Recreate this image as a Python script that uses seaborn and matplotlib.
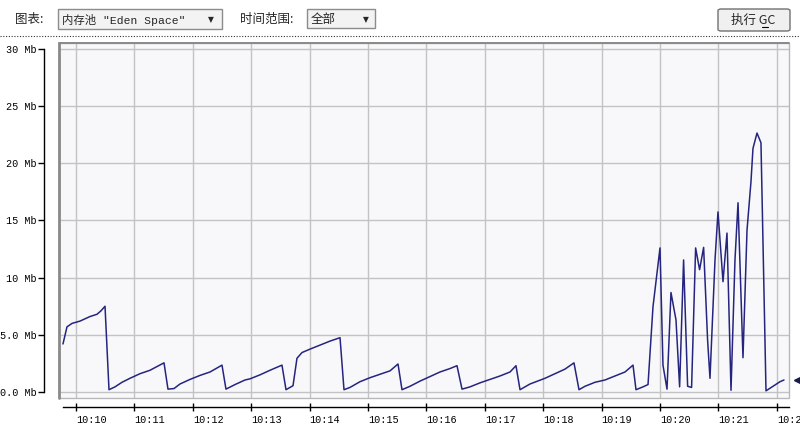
import matplotlib
matplotlib.use("Agg")
import matplotlib.pyplot as plt
from matplotlib.patches import Rectangle, FancyBboxPatch
from matplotlib.lines import Line2D
import seaborn as sns
import pandas as pd

# ---------------- data (minutes after 10:00, Mb) ----------------
time_min = [
    9.777, 9.846, 9.932, 10.068, 10.240, 10.360, 10.428, 10.497,
    10.565, 10.668, 10.788, 10.925, 11.096, 11.267, 11.507,
    11.575, 11.678, 11.781, 11.952, 12.123, 12.295, 12.500,
    12.568, 12.723, 12.894, 12.979, 13.151, 13.322, 13.527,
    13.596, 13.716, 13.784, 13.870, 14.007, 14.178, 14.349, 14.521,
    14.589, 14.692, 14.863, 15.034, 15.205, 15.377, 15.514,
    15.582, 15.719, 15.890, 16.062, 16.233, 16.404, 16.524,
    16.610, 16.747, 16.918, 17.089, 17.260, 17.432, 17.534,
    17.603, 17.774, 18.031, 18.202, 18.373, 18.527,
    18.613, 18.716, 18.887, 19.058, 19.229, 19.401, 19.538,
    19.589, 19.709, 19.795, 19.880, 20.000, 20.051, 20.120, 20.188, 20.274, 20.336,
    20.404, 20.473, 20.541, 20.610, 20.678, 20.747, 20.815, 20.856, 20.942, 20.993,
    21.079, 21.147, 21.216, 21.284, 21.336, 21.421, 21.490, 21.558, 21.592, 21.661,
    21.729, 21.815, 21.935, 22.055, 22.123,
]
eden_mb = [
    4.2, 5.7, 6.0, 6.2, 6.6, 6.8, 7.1, 7.5,
    0.2, 0.45, 0.85, 1.2, 1.6, 1.9, 2.55,
    0.25, 0.3, 0.7, 1.1, 1.45, 1.75, 2.35,
    0.25, 0.65, 1.05, 1.15, 1.5, 1.9, 2.35,
    0.2, 0.55, 2.95, 3.45, 3.75, 4.1, 4.45, 4.75,
    0.2, 0.4, 0.9, 1.25, 1.55, 1.85, 2.45,
    0.2, 0.5, 0.95, 1.35, 1.75, 2.05, 2.3,
    0.25, 0.45, 0.8, 1.1, 1.4, 1.75, 2.3,
    0.2, 0.7, 1.2, 1.6, 2.0, 2.55,
    0.2, 0.5, 0.85, 1.05, 1.4, 1.75, 2.35,
    0.2, 0.45, 0.65, 7.45, 12.6, 2.35, 0.25, 8.7, 6.3, 0.45,
    11.55, 0.5, 0.4, 12.6, 10.7, 12.65, 4.55, 1.2, 11.55, 15.75,
    9.65, 13.9, 0.15, 11.55, 16.55, 3.0, 14.15, 18.4, 21.3, 22.65,
    21.8, 0.1, 0.5, 0.9, 1.05,
]
x_ticks = list(range(10, 23))
x_tick_labels = ["10:%02d" % m for m in x_ticks]
y_ticks = [0, 5, 10, 15, 20, 25, 30]
y_tick_labels = ["0.0 Mb", "5.0 Mb", "10 Mb", "15 Mb", "20 Mb", "25 Mb", "30 Mb"]

chart_label = "图表:"
pool_choice = '内存池 "Eden Space"'
range_label = "时间范围:"
range_choice = "全部"
gc_button = "执行 GC"

# ---------------- figure ----------------
sns.set_style("white")
plt.rcParams["font.family"] = ["Noto Sans CJK SC", "DejaVu Sans"]

W, H = 800, 424
fig = plt.figure(figsize=(W / 100, H / 100), dpi=100)
fig.patch.set_facecolor("white")

def fx(px):
    return px / W

def fy(py):
    return 1 - py / H

# plot area: x 59..789, y 43..398 (pixels)
ax = fig.add_axes([fx(59), fy(398), fx(789) - fx(59), fy(43) - fy(398)])
ax.set_facecolor("#f8f8fa")

df = pd.DataFrame({"time": time_min, "mb": eden_mb})
sns.lineplot(data=df, x="time", y="mb", ax=ax, color="#25257f",
             linewidth=1.1, sort=False, estimator=None, zorder=3)

ax.set_xlim(9.709, 22.209)
ax.set_ylim(-0.525, 30.525)
ax.set_xlabel("")
ax.set_ylabel("")

ax.tick_params(axis="y", left=True, direction="out", length=4, width=1,
               color="black", pad=1.5, labelcolor="black")
ax.tick_params(axis="x", bottom=True, direction="inout", length=6, width=1,
               color="black", pad=2.5, labelcolor="black")

ax.set_xticks(x_ticks)
ax.set_xticklabels(x_tick_labels)
ax.set_yticks(y_ticks)
ax.set_yticklabels(y_tick_labels)

ax.grid(True, color="#c3c3c3", linewidth=1)
ax.set_axisbelow(True)

for s in ["top", "right"]:
    ax.spines[s].set_visible(False)
ax.spines["left"].set_position(("outward", 10.8))
ax.spines["left"].set_bounds(0, 30)
ax.spines["left"].set_color("black")
ax.spines["left"].set_linewidth(1)
ax.spines["bottom"].set_position(("outward", 6.5))
ax.spines["bottom"].set_bounds(9.777, 22.209)
ax.spines["bottom"].set_color("black")
ax.spines["bottom"].set_linewidth(1)

# plot area border (inset look)
ax.add_patch(Rectangle((0, 0), 1, 1, transform=ax.transAxes, fill=False,
                       edgecolor="#b8b8b8", linewidth=1, clip_on=False, zorder=4))
ax.add_line(Line2D([0, 0], [0, 1], transform=ax.transAxes, color="#8a8a8a",
                   linewidth=2, clip_on=False, zorder=5))
ax.add_line(Line2D([0, 1], [1, 1], transform=ax.transAxes, color="#8a8a8a",
                   linewidth=1.4, clip_on=False, zorder=5))

# current-value pointer at right edge
ax.plot([22.34], [eden_mb[-1]], marker="<", markersize=4, color="#1a1a4a",
        clip_on=False, zorder=6)

# tick label fonts (set last so nothing resets them)
for lab in ax.get_xticklabels():
    lab.set_fontfamily(["Liberation Mono"])
    lab.set_fontsize(7.3)
    lab.set_horizontalalignment("left")
for lab in ax.get_yticklabels():
    lab.set_fontfamily(["Liberation Mono"])
    lab.set_fontsize(7.3)

# ---------------- toolbar ----------------
def box(x0, y0, x1, y1, face="#f3f3f3", edge="#8c8c8c", rounded=False):
    if rounded:
        p = FancyBboxPatch((fx(x0), fy(y1)), fx(x1) - fx(x0), fy(y0) - fy(y1),
                           boxstyle="round,pad=0,rounding_size=0.004",
                           transform=fig.transFigure, facecolor=face,
                           edgecolor=edge, linewidth=1)
    else:
        p = Rectangle((fx(x0), fy(y1)), fx(x1) - fx(x0), fy(y0) - fy(y1),
                      transform=fig.transFigure, facecolor=face,
                      edgecolor=edge, linewidth=1)
    fig.patches.append(p)

fig.text(fx(15), fy(19.5), chart_label, fontsize=9, va="center", ha="left")
box(58, 9, 222, 29)
fig.text(fx(62), fy(19.5), pool_choice, fontsize=8.2, va="center", ha="left",
         family=["Liberation Mono", "Noto Sans CJK SC"])
fig.text(fx(211), fy(20), "▼", fontsize=5.5, va="center", ha="center",
         family=["DejaVu Sans"])

fig.text(fx(240), fy(19.5), range_label, fontsize=9, va="center", ha="left")
box(307, 9, 375, 28)
fig.text(fx(311), fy(19), range_choice, fontsize=9, va="center", ha="left")
fig.text(fx(366), fy(20), "▼", fontsize=5.5, va="center", ha="center",
         family=["DejaVu Sans"])

box(718, 9, 790, 31, face="#f0f0f0", edge="#707070", rounded=True)
fig.text(fx(753), fy(20), gc_button, fontsize=9, va="center", ha="center")
fig.lines.append(Line2D([fx(762), fx(768)], [fy(27), fy(27)],
                        transform=fig.transFigure, color="black", linewidth=0.8))

# dotted separator
fig.lines.append(Line2D([0, 1], [fy(35.5), fy(35.5)], transform=fig.transFigure,
                        color="#333333", linewidth=0.8, linestyle=(0, (1, 1.5))))

fig.savefig("out.png", dpi=100, facecolor="white")
